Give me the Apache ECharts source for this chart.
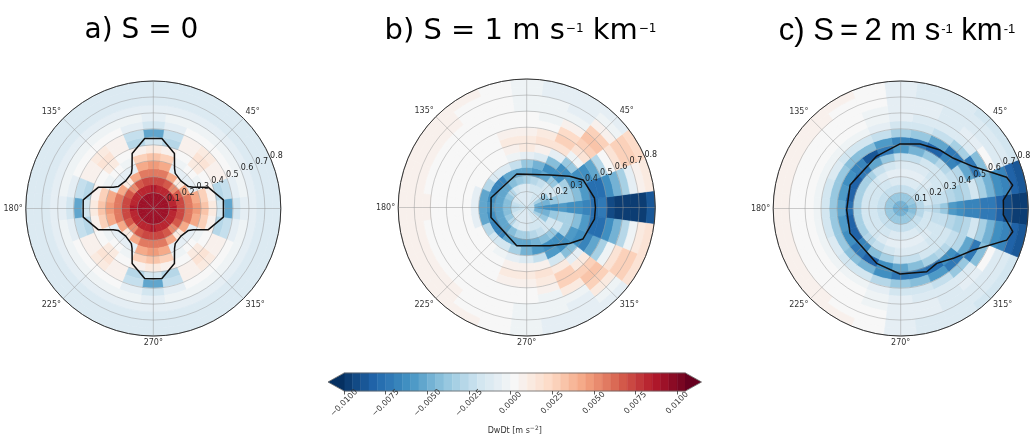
<!DOCTYPE html>
<html><head><meta charset="utf-8">
<script src="https://cdn.jsdelivr.net/npm/echarts@6/dist/echarts.min.js"></script>
<style>html,body{margin:0;padding:0;background:#fff}#c{width:1034px;height:438px}</style>
</head><body><div id="c"></div>
<script>
// ---------------- data ----------------
const radiusBins = [0.025,0.075,0.125,0.175,0.225,0.275,0.325,0.375,0.425,0.475,0.525,0.575,0.625,0.675,0.725,0.775];
const angleBins = [0,15,30,45,60,75,90,105,120,135,150,165,180,195,210,225,240,255,270,285,300,315,330,345];
const radiusTicks = [0.1,0.2,0.3,0.4,0.5,0.6,0.7,0.8];
const angleTickLabels = [45,135,180,225,270,315];
const colorbarTicks = [-0.01,-0.0075,-0.005,-0.0025,0,0.0025,0.005,0.0075,0.01];
const UNIT = 1e-4; // values below are DwDt in 1e-4 m s^-2

// panel a) S = 0 : rows = angleBins, columns = radiusBins
const dwdtA = [
 [92,90,85,72,58,45,32,12,-20,-55,-18,-6,-8,-11,-13,-15],
 [92,90,84,70,55,42,28,5,-30,-25,-10,-5,-7,-11,-13,-15],
 [92,90,83,65,40,-10,-5,3,8,6,0,-4,-7,-11,-13,-15],
 [92,90,80,50,10,-8,3,13,16,12,3,-4,-8,-11,-13,-15],
 [92,90,83,65,40,-10,-5,3,8,6,0,-4,-7,-11,-13,-15],
 [92,90,84,70,55,42,28,5,-30,-25,-10,-5,-7,-11,-13,-15],
 [92,90,85,72,58,45,32,12,-20,-55,-18,-6,-8,-11,-13,-15],
 [92,90,84,70,55,42,28,5,-30,-25,-10,-5,-7,-11,-13,-15],
 [92,90,83,65,40,-10,-5,3,8,6,0,-4,-7,-11,-13,-15],
 [92,90,80,50,10,-8,3,13,16,12,3,-4,-8,-11,-13,-15],
 [92,90,83,65,40,-10,-5,3,8,6,0,-4,-7,-11,-13,-15],
 [92,90,84,70,55,42,28,5,-30,-25,-10,-5,-7,-11,-13,-15],
 [92,90,85,72,58,45,32,12,-20,-55,-18,-6,-8,-11,-13,-15],
 [92,90,84,70,55,42,28,5,-30,-25,-10,-5,-7,-11,-13,-15],
 [92,90,83,65,40,-10,-5,3,8,6,0,-4,-7,-11,-13,-15],
 [92,90,80,50,10,-8,3,13,16,12,3,-4,-8,-11,-13,-15],
 [92,90,83,65,40,-10,-5,3,8,6,0,-4,-7,-11,-13,-15],
 [92,90,84,70,55,42,28,5,-30,-25,-10,-5,-7,-11,-13,-15],
 [92,90,85,72,58,45,32,12,-20,-55,-18,-6,-8,-11,-13,-15],
 [92,90,84,70,55,42,28,5,-30,-25,-10,-5,-7,-11,-13,-15],
 [92,90,83,65,40,-10,-5,3,8,6,0,-4,-7,-11,-13,-15],
 [92,90,80,50,10,-8,3,13,16,12,3,-4,-8,-11,-13,-15],
 [92,90,83,65,40,-10,-5,3,8,6,0,-4,-7,-11,-13,-15],
 [92,90,84,70,55,42,28,5,-30,-25,-10,-5,-7,-11,-13,-15]
];
// panel b) S = 1
const dwdtB = [
 [-25,-58,-62,-62,-60,-62,-65,-70,-80,-74,-92,-98,-100,-100,-96,-90],
 [-25,-50,-50,-40,-35,-35,-45,-60,-80,-78,-62,-48,-32,-8,8,14],
 [-22,-35,-40,-20,-20,-35,-60,-65,-65,-55,-30,0,18,28,28,20],
 [-20,-20,-20,-18,-40,-65,-65,-40,-5,15,28,30,25,8,-3,-8],
 [-18,-18,-20,-25,-55,-65,-45,-10,15,25,20,5,-3,-6,-8,-8],
 [-15,-15,-18,-30,-58,-50,-12,8,15,12,3,-2,-4,-5,-6,-6],
 [-12,-12,-15,-35,-55,-40,-8,10,12,6,2,0,-2,-3,-3,-3],
 [-12,-12,-15,-40,-55,-25,-3,8,10,5,3,3,3,3,3,4],
 [-15,-15,-20,-45,-55,-15,0,3,3,3,3,3,4,4,4,5],
 [-18,-15,-30,-55,-70,-15,0,3,3,3,3,4,4,5,5,5],
 [-20,-20,-40,-55,-70,-30,0,3,3,3,4,4,4,5,5,6],
 [-22,-25,-45,-55,-65,-55,-10,2,3,3,4,4,4,5,6,6],
 [-25,-30,-45,-55,-60,-55,-10,2,3,3,4,4,5,5,6,6],
 [-22,-25,-45,-55,-65,-55,-10,2,3,3,4,4,4,5,6,6],
 [-20,-20,-40,-55,-70,-30,0,3,3,3,4,4,4,5,5,6],
 [-18,-15,-30,-52,-70,-18,0,3,3,3,3,4,4,5,5,5],
 [-15,-15,-20,-42,-55,-20,-2,3,3,3,3,3,4,4,4,5],
 [-12,-12,-15,-35,-55,-35,-8,5,10,8,3,3,3,3,3,4],
 [-12,-12,-15,-32,-52,-48,-12,8,12,8,2,0,-2,-3,-3,-3],
 [-15,-15,-18,-28,-50,-58,-25,5,15,14,5,-2,-4,-5,-6,-6],
 [-18,-18,-20,-25,-45,-62,-58,-18,12,25,25,10,-3,-6,-8,-8],
 [-20,-20,-20,-20,-38,-62,-65,-42,-8,12,25,32,28,10,-3,-8],
 [-22,-35,-40,-20,-20,-35,-58,-65,-66,-55,-32,-2,15,25,25,18],
 [-25,-50,-50,-40,-35,-35,-45,-60,-80,-78,-64,-48,-30,-4,10,16]
];
// panel c) S = 2
const dwdtC = [
 [-52,-45,-30,-25,-28,-40,-60,-65,-68,-70,-72,-75,-82,-95,-100,-100],
 [-52,-42,-28,-20,-22,-25,-30,-34,-26,-20,-35,-50,-62,-70,-85,-88],
 [-50,-38,-25,-18,-16,-18,-20,-24,-30,-55,-72,-45,0,-12,-15,-16],
 [-50,-38,-24,-16,-14,-16,-20,-30,-70,-72,-35,-14,-10,-12,-15,-16],
 [-50,-38,-22,-14,-10,-14,-20,-38,-85,-55,-22,-14,-12,-12,-14,-15],
 [-50,-38,-22,-12,-8,-12,-22,-50,-72,-38,-18,-12,-10,-10,-12,-13],
 [-50,-38,-22,-12,-6,-12,-25,-60,-70,-35,-16,-10,-8,-7,-7,-7],
 [-50,-38,-22,-14,-10,-18,-40,-75,-58,-25,-10,-5,-2,0,2,3],
 [-50,-38,-24,-16,-14,-25,-52,-88,-45,-18,-5,0,2,3,4,5],
 [-50,-38,-24,-17,-16,-32,-72,-70,-42,-16,-4,1,3,4,5,5],
 [-50,-40,-25,-18,-18,-35,-85,-62,-38,-15,-4,1,3,4,5,5],
 [-50,-40,-25,-18,-18,-32,-85,-58,-36,-18,-5,0,3,4,5,5],
 [-52,-40,-25,-18,-18,-32,-80,-55,-38,-20,-5,0,3,4,5,5],
 [-50,-40,-25,-18,-18,-32,-85,-58,-36,-18,-5,0,3,4,5,5],
 [-50,-40,-25,-18,-18,-35,-85,-62,-38,-15,-4,1,3,4,5,5],
 [-50,-38,-24,-17,-16,-30,-70,-75,-42,-16,-4,1,3,4,5,5],
 [-50,-38,-24,-16,-14,-22,-45,-85,-50,-18,-5,0,2,3,4,5],
 [-50,-38,-22,-14,-10,-16,-32,-65,-65,-28,-10,-5,-2,0,2,3],
 [-50,-38,-22,-12,-6,-12,-25,-55,-72,-38,-16,-10,-8,-7,-7,-7],
 [-50,-38,-22,-12,-8,-12,-22,-45,-75,-42,-18,-12,-10,-10,-12,-13],
 [-50,-38,-22,-14,-10,-14,-20,-35,-80,-58,-22,-14,-12,-12,-14,-15],
 [-50,-38,-24,-16,-14,-16,-20,-28,-65,-72,-38,-14,-10,-12,-15,-16],
 [-50,-38,-25,-18,-16,-18,-20,-24,-30,-55,-72,-45,0,-12,-15,-16],
 [-52,-42,-28,-20,-22,-25,-30,-34,-26,-20,-35,-50,-62,-70,-85,-88]
];
// black contour, [angle (deg), radius]
const contourA = [[0,.44],[7,.443],[21,.37],[28,.284],[32,.26],[45,.245],[58,.26],[62,.284],[69,.37],[83,.443],[90,.44],[97,.443],[111,.37],[118,.284],[122,.26],[135,.245],[148,.26],[152,.284],[159,.37],[173,.443],[180,.44],[187,.443],[201,.37],[208,.284],[212,.26],[225,.245],[238,.26],[242,.284],[249,.37],[263,.443],[270,.44],[277,.443],[291,.37],[298,.284],[302,.26],[315,.245],[328,.26],[332,.284],[339,.37],[353,.443],[360,.44]];
const contourB = [[0,.428],[8,.426],[26,.391],[36,.33],[54,.25],[90,.207],[106.5,.218],[164.7,.23],[195.8,.231],[255.4,.246],[270,.238],[301,.278],[320,.348],[330.7,.401],[350.2,.428],[360,.428]];
const contourC = [[0,.645],[4.7,.646],[11.8,.718],[16.4,.693],[30,.526],[43.6,.457],[56.1,.442],[73.3,.423],[90.6,.405],[114.6,.362],[155.2,.35],[181.5,.339],[206.1,.354],[246.3,.376],[269.4,.411],[292.4,.429],[303.3,.412],[316.6,.455],[330.3,.525],[343.4,.694],[348.3,.718],[356.4,.645],[360,.645]];

// ---------------- style / scales ----------------
const RDBU_R = ['#053061','#2166ac','#4393c3','#92c5de','#d1e5f0','#f7f7f7','#fddbc7','#f4a582','#d6604d','#b2182b','#67001f'];
function hex(c){return [parseInt(c.substr(1,2),16),parseInt(c.substr(3,2),16),parseInt(c.substr(5,2),16)];}
const ANCH = RDBU_R.map(hex);
function cmap(t){
  t=Math.max(0,Math.min(1,t)); const s=t*10; const i=Math.min(9,Math.floor(s)); const f=s-i;
  const a=ANCH[i], b=ANCH[i+1];
  return 'rgb('+[0,1,2].map(k=>Math.round(a[k]+(b[k]-a[k])*f)).join(',')+')';
}
const VMIN=-0.01, STEP=0.0005, NBIN=41;
function colorFor(v){
  if(v<VMIN) return cmap(0);
  const k=Math.floor((v-VMIN)/STEP+1e-9);
  if(k>=NBIN) return cmap(1);
  return cmap((k+1)/(NBIN+1));
}
const DR=0.05, DA=15;
const PANELS=[{cx:153.3,cy:208.5,R:127.5},{cx:526.7,cy:207.5,R:128.5},{cx:900.7,cy:208.5,R:127.5}];
const FIELDS=[dwdtA,dwdtB,dwdtC];
const CONTOURS=[contourA,contourB,contourC];
const GRIDLINE={color:'rgba(150,150,150,0.6)',width:0.8};
const TICKFONT='DejaVu Sans';

function renderSector(params, api){
  const r=api.value(0), a=api.value(1), v=api.value(2);
  const p0=api.coord([Math.max(0,r-DR/2), a-DA/2]);
  const p1=api.coord([r+DR/2, a+DA/2]);
  const cs=params.coordSys;
  const col=colorFor(v*UNIT);
  return {type:'sector', shape:{cx:cs.cx, cy:cs.cy, r0:p0[2], r:p1[2], startAngle:-p1[3], endAngle:-p0[3], clockwise:true},
          style:{fill:col, stroke:col, lineWidth:0.7}};
}
function renderRLabel(params, api){
  const r=api.value(0), a=api.value(1);
  const p=api.coord([r,a]);
  return {type:'text', x:p[0]-1, y:p[1]-3.5, style:{text:r.toFixed(1), fill:'#222', font:'8px "DejaVu Sans"', align:'left', verticalAlign:'middle'}};
}

const polar=[], angleAxis=[], radiusAxis=[], series=[];
PANELS.forEach((P,i)=>{
  polar.push({center:[P.cx,P.cy], radius:P.R});
  angleAxis.push({polarIndex:i, type:'value', min:0, max:360, interval:45, startAngle:0, clockwise:false, z:10,
    axisLine:{show:true, lineStyle:{color:'#333', width:1}}, axisTick:{show:false},
    axisLabel:{show:true, margin:3, fontSize:8, color:'#333', fontFamily:TICKFONT,
      formatter:v=> angleTickLabels.indexOf(v)>=0 ? v+'°' : ''},
    splitLine:{show:true, lineStyle:GRIDLINE}});
  radiusAxis.push({polarIndex:i, type:'value', min:0, max:0.8, interval:0.1, z:10,
    axisLine:{show:false}, axisTick:{show:false}, axisLabel:{show:false},
    splitLine:{show:true, lineStyle:GRIDLINE}});
  const data=[];
  angleBins.forEach((a,ai)=>radiusBins.forEach((r,ri)=>data.push([r,a,FIELDS[i][ai][ri]])));
  series.push({type:'custom', coordinateSystem:'polar', polarIndex:i, z:1, silent:true,
    encode:{radius:0, angle:1}, renderItem:renderSector, data:data});
  series.push({type:'line', coordinateSystem:'polar', polarIndex:i, z:20, silent:true, symbol:'none',
    lineStyle:{color:'#111', width:1.5}, data:CONTOURS[i].map(d=>[d[1],d[0]])});
  series.push({type:'custom', coordinateSystem:'polar', polarIndex:i, z:30, silent:true,
    encode:{radius:0, angle:1}, renderItem:renderRLabel, data:radiusTicks.map(r=>[r,22.5])});
});

// colorbar
const cbLevels=[]; for(let k=0;k<NBIN;k++) cbLevels.push(VMIN+k*STEP);
series.push({type:'custom', coordinateSystem:'cartesian2d', xAxisIndex:0, yAxisIndex:0, silent:true, z:2,
  data:cbLevels.map(v=>[v]),
  renderItem:(params,api)=>{
    const lo=api.value(0);
    const p0=api.coord([lo,0]), p1=api.coord([lo+STEP,1]);
    const col=colorFor(lo+STEP/2);
    return {type:'rect', shape:{x:p0[0], y:p1[1], width:p1[0]-p0[0], height:p0[1]-p1[1]}, style:{fill:col, stroke:col, lineWidth:0.5}};
  }});
series.push({type:'custom', coordinateSystem:'cartesian2d', xAxisIndex:0, yAxisIndex:0, silent:true, z:3,
  data:[[0]],
  renderItem:(params,api)=>{
    const a=api.coord([VMIN,0]), b=api.coord([VMIN+NBIN*STEP,1]);
    const ym=(a[1]+b[1])/2, tip=16;
    return {type:'group', children:[
      {type:'polygon', shape:{points:[[a[0]+0.5,a[1]],[a[0]-tip,ym],[a[0]+0.5,b[1]]]}, style:{fill:cmap(0)}},
      {type:'polygon', shape:{points:[[b[0]-0.5,a[1]],[b[0]+tip,ym],[b[0]-0.5,b[1]]]}, style:{fill:cmap(1)}},
      {type:'polygon', shape:{points:[[a[0],b[1]],[b[0],b[1]],[b[0]+tip,ym],[b[0],a[1]],[a[0],a[1]],[a[0]-tip,ym]]}, style:{fill:'none', stroke:'#666', lineWidth:0.8}}
    ]};
  }});

const fmtCb=v=>{const s=Math.abs(v).toFixed(4); return v<-1e-12 ? '\u2212'+s : s;};

function titleText(x, text, fam, size, supSize){
  return {type:'text', x:x, y:13, style:{text:text, fill:'#000', font:size+'px '+fam, align:'center', verticalAlign:'top', lineHeight:36,
    rich:{sup:{fontSize:supSize, lineHeight:supSize, verticalAlign:'top', padding:[10,0,0,1], fontFamily:fam, fill:'#000'}}}};
}

const option={
  animation:false,
  backgroundColor:'#fff',
  polar:polar, angleAxis:angleAxis, radiusAxis:radiusAxis,
  grid:[{left:344, top:373, width:341.5, height:20}],
  xAxis:[{gridIndex:0, type:'value', min:VMIN, max:VMIN+NBIN*STEP, interval:0.0025, z:5,
    axisLine:{show:false}, splitLine:{show:false},
    axisTick:{show:true, length:3.5, lineStyle:{color:'#333', width:0.8}, customValues:colorbarTicks},
    axisLabel:{show:true, rotate:45, fontSize:8, fontFamily:TICKFONT, color:'#333', margin:12, align:'center', verticalAlign:'middle',
      customValues:colorbarTicks, formatter:fmtCb},
    name:'DwDt [m s{sup|\u22122}]', nameLocation:'middle', nameGap:34,
    nameTextStyle:{fontSize:8, fontFamily:TICKFONT, color:'#333', lineHeight:12, verticalAlign:'top',
      rich:{sup:{fontSize:6, lineHeight:6, verticalAlign:'top', fontFamily:TICKFONT, color:'#333'}}}}],
  yAxis:[{gridIndex:0, type:'value', min:0, max:1, show:false}],
  graphic:[
    titleText(141.5, 'a) S = 0', '"DejaVu Sans"', 28, 13),
    titleText(520.5, 'b) S = 1 m s{sup|\u22121} km{sup|\u22121}', '"DejaVu Sans"', 29, 12),
    titleText(897, 'c) S\u2009=\u20092 m s{sup|-1} km{sup|-1}', '"Liberation Sans"', 31, 13)
  ],
  series:series
};
const chart=echarts.init(document.getElementById('c'),null,{renderer:'canvas'});
chart.setOption(option);
</script></body></html>
